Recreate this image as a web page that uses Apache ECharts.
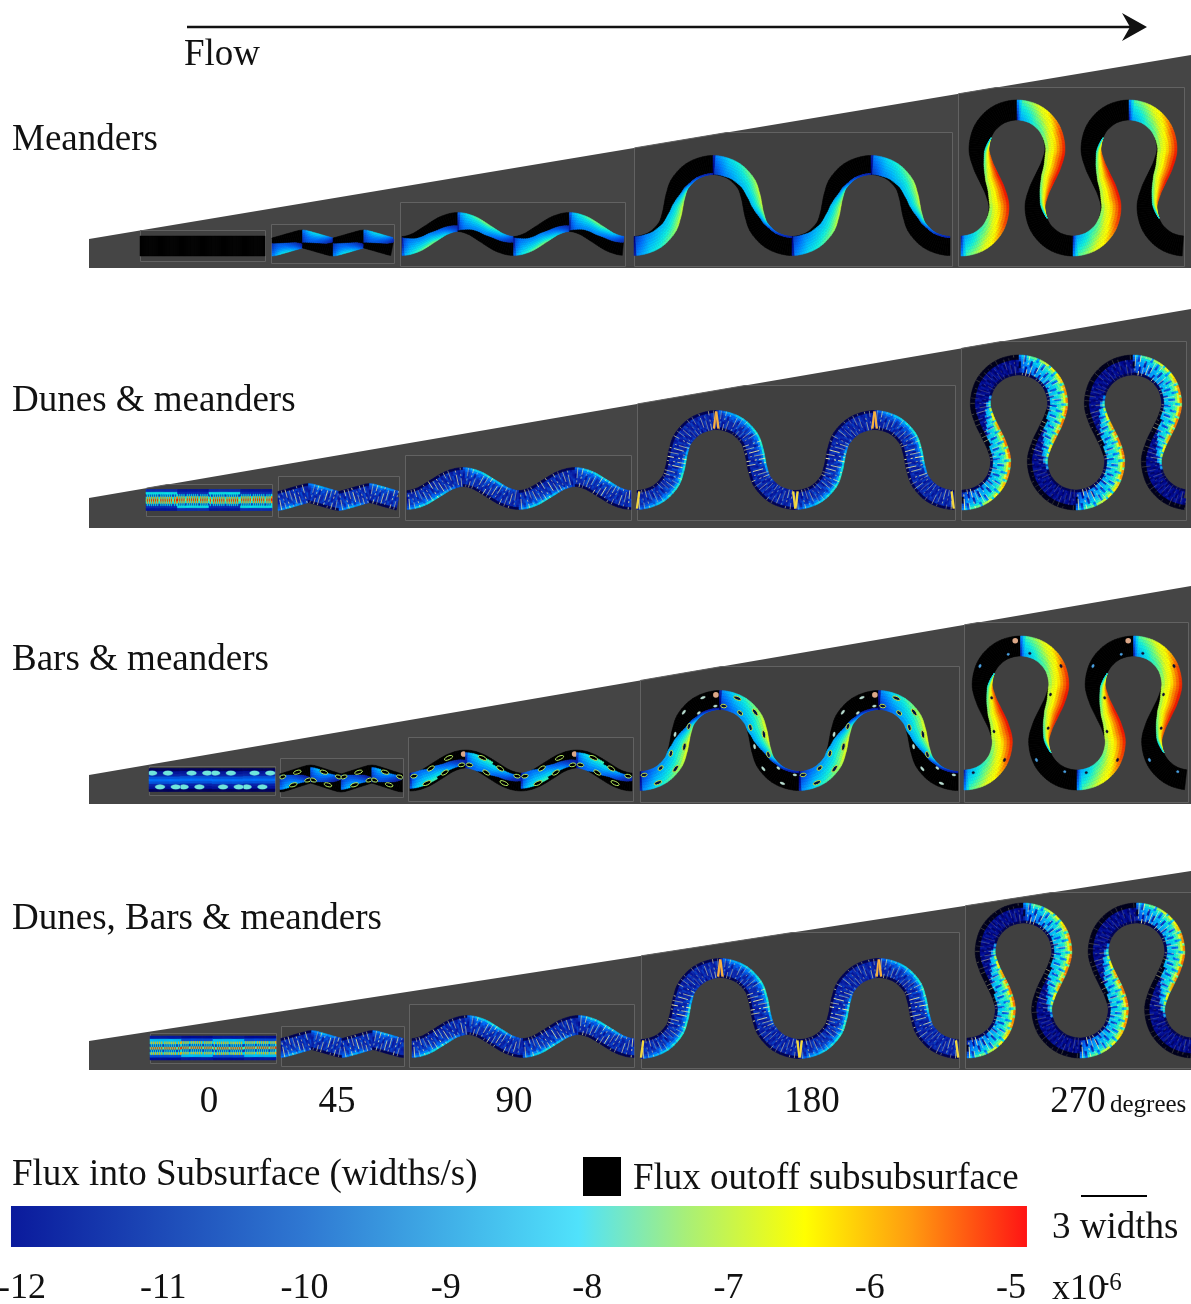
<!DOCTYPE html>
<html><head><meta charset="utf-8">
<style>html,body{margin:0;padding:0;background:#fff}#c{width:1191px;height:1304px}</style>
<script src="https://cdn.jsdelivr.net/npm/echarts@6/dist/echarts.min.js"></script>
</head><body><div id="c"></div>
<script>
// ---------- text ----------
const rowLabels = ['Meanders', 'Dunes & meanders', 'Bars & meanders', 'Dunes, Bars & meanders'];
const rowLabelY = [140, 401, 660, 919];
const degreeLabels = ['0', '45', '90', '180', '270'];
const degreeLabelX = [209, 337, 514, 812, 1078];
const fluxTicks = [-12, -11, -10, -9, -8, -7, -6, -5];

// ---------- wedges per row ----------
const wedgeLeftTop = [239, 498, 775, 1041];
const wedgeRightTop = [55, 309, 586, 871];
const wedgeBottom = [268, 528, 804, 1070];

// ---------- panel frames per row (columns: 0,45,90,180,270 degrees) ----------
const frameLeft = [[140,271,400,634,958],[146,278,405,637,961],[149,280,408,640,964],[150,281,409,641,965]];
const frameRight = [[265,394,625,952,1184],[272,399,631,955,1186],[275,403,633,959,1188],[276,404,634,959,1192]];
const frameTop = [[230,224,202,132,87],[484,476,455,385,341],[766,758,737,666,622],[1033,1026,1004,932,892]];
const frameBottom = [[261,263,266,266,266],[516,517,520,520,520],[795,797,801,802,802],[1063,1066,1067,1068,1068]];

// ---------- channel reaches per row ----------
const channelStart = [[140,272,402,634,961],[146,278,407,637,962],[149,280,410,640,964],[150,281,412,641,967]];
const channelHalfWave = [[31.5,30.6,55.8,79,56],[31.5,30.5,56,79.2,57],[31.5,30.6,55.5,79.5,56.5],[31.5,30.6,55.5,79.3,56.5]];
const channelTroughY = [[246,247,246,246,246],[500,501,500,500,500],[780,783,782,781,780],[1048,1048,1048,1049,1048]];
const channelApexY = [[246,239,222,165,110],[500,493,477,420,365],[780,774,759,700,646],[1048,1040,1025,968,913]];
const channelWidth = [[20,18,19,19,20],[21,19,19,19,20],[23,18,18,19,20],[24,19,19,19,20]];

// ---------- centreline, trough to apex, per degree column ----------
const curve0 = [[0,0],[62,0]];
const curve45 = [[0,0],[4,-0.8],[26.5,-7.2],[30.5,-8]];
const curve90 = [[0,0],[14,-3.5],[28,-12],[42,-20.5],[56,-24]];
const curve180 = [[0,0],[20,-5.3],[33.5,-18],[38.5,-31],[40.5,-40.5],[42.5,-50],[47.5,-63],[61,-75.7],[81,-81]];
const curve270 = [[0,0],[19,-5],[32.9,-19],[38,-38],[34.4,-54],[28,-68],[21.6,-82],[18,-98],[23.1,-117],[37,-131],[56,-136]];
const curves = [curve0, curve45, curve90, curve180, curve270];

// ---------- flux read along a half wave (9 stations), per degree column ----------
const coverage0 = [0,0,0,0,0,0,0,0,0];
const coverage45 = [0.7,0.65,0.6,0.55,0.5,0.45,0.4,0.3,0.2];
const coverage90 = [0.95,0.85,0.7,0.6,0.55,0.45,0.4,0.35,0.3];
const coverage180 = [1,0.97,0.88,0.75,0.55,0.22,0.1,0.07,0.05];
const coverage270 = [1,1,1,0.95,0.7,0.3,0,0,0];
const coverage = [coverage0, coverage45, coverage90, coverage180, coverage270];
const bankFlux0 = [-12,-12,-12,-12,-12,-12,-12,-12,-12];
const bankFlux45 = [-9.8,-8.8,-8.4,-8.3,-8.4,-8.8,-9.4,-10.2,-11];
const bankFlux90 = [-9.5,-8.2,-7.6,-7.3,-7.4,-8,-8.6,-9.6,-10.5];
const bankFlux180 = [-10,-8.4,-7.6,-7,-6.9,-7.4,-9.5,-10.5,-11];
const bankFlux270 = [-8,-6.5,-5.2,-4.9,-4.9,-5.4,-6.8,-8.5,-10];
const bankFlux = [bankFlux0, bankFlux45, bankFlux90, bankFlux180, bankFlux270];
const edgeFlux0 = [-12,-12,-12,-12,-12,-12,-12,-12,-12];
const edgeFlux45 = [-11,-10.5,-10.3,-10.3,-10.4,-10.6,-10.8,-11,-11.4];
const edgeFlux90 = [-11,-10,-9.7,-9.7,-9.7,-10,-10.4,-10.8,-11];
const edgeFlux180 = [-11,-9.8,-9.2,-9,-9,-9.6,-10.4,-11,-11.2];
const edgeFlux270 = [-9.8,-8.2,-7.6,-7.2,-7.4,-8,-9,-10,-11];
const edgeFlux = [edgeFlux0, edgeFlux45, edgeFlux90, edgeFlux180, edgeFlux270];
const bankFalloff = [1,1.6,1.4,1.1,1];

// dunes
const duneFloor = [-10.6, -11, -11.1, -11.2, -11.9];
const duneBlend = [0, 0.3, 0.2, 0.12, 0.6];
const dunePattern = [0,1,0,0.7,0,1,0,0.6,0,0.9,0,0.8,0];
const duneMask = [0.2,0.9,0.9,0.5,0.9,0.9,0.3,0.9,0.3];
const blotch = [0,1,-1,0.5,-0.5,1,0,-1,0.5,0,-0.5,1,-1];
const stripe45 = [0.8,0.7,0.7,0.75,0.8,0.75,0.7,0.7,0.8];
const stripe90 = [0.8,0.65,0.6,0.75,0.85,0.75,0.6,0.65,0.8];
const stripe180 = [0.7,0.5,0.45,0.75,1,0.75,0.45,0.5,0.7];
const stripe270 = [0.95,0.75,0.55,0.55,0.55,0.45,0.35,0.35,0.45];
const stripeStrength = [stripe45, stripe45, stripe90, stripe180, stripe270];
const duneProfile0 = [-11.6,-11,-9.5,-7,-6.2,-7,-9.5,-8.4,-11];
const dunesBarsProfile0 = [-11.8,-10.5,-7.2,-9.5,-6.4,-9.5,-7.2,-9,-11.5];

// bars
const barStations0 = [0.1,0.35,0.6,0.85];
const barStations45 = [0.12,0.38,0.62,0.88];
const barStations90 = [0.08,0.25,0.42,0.58,0.75,0.92];
const barStations180 = [0.04,0.13,0.21,0.29,0.38,0.46,0.54,0.63,0.71,0.79,0.88,0.96];
const barStations270 = [0.06,0.24,0.4,0.58,0.76,0.92];
const barStations = [barStations0,barStations45,barStations90,barStations180,barStations270];
const barCoverBoost = [1,1.4,1.45,1.4,1.05];
const barLength = [5,4,4,3.6,1.6];
const barWidth = [0.1,0.1,0.1,0.09,0.06];
const barProfile0 = [-12.4,-11.6,-11.2,-10.4,-10,-10.4,-11.2,-11.6,-12.4];
const cellsAlong = [30,16,30,60,85];
const cellsAcross = 9;

// ---------- colour scales ----------
const fieldValues = [-13.2,-12,-11,-10,-9,-8.2,-7.5,-6.9,-6.4,-5.8,-5];
const fieldColors = ['#000006','#00058c','#0c2cb4','#0070ff','#00c0ff','#10f0e0','#70ff80','#e0ff20','#ffff00','#ff9000','#f01000'];
const legendValues = [-12.078,-10,-8.06,-7.3,-6.46,-5.7,-4.887];
const legendColors = ['#0a1a9c','#2f78d2','#50e2fb','#a8ef78','#ffff00','#ff9a10','#ff1414'];

// ---------- helpers ----------
function hex(c){return [1,3,5].map(i=>parseInt(c.substr(i,2),16));}
const fieldRGB = fieldColors.map(hex);
function fieldColor(v){
  let i=0; v=Math.max(fieldValues[0],Math.min(-5,v));
  while(i<fieldValues.length-2 && v>fieldValues[i+1]) i++;
  const t=(v-fieldValues[i])/(fieldValues[i+1]-fieldValues[i]);
  const c=fieldRGB[i].map((a,k)=>a+(fieldRGB[i+1][k]-a)*t);
  return 'rgb('+c.map(Math.round).join(',')+')';
}
function interp(arr,s){
  const f=Math.min(0.9999,Math.max(0,s))*(arr.length-1),i=Math.floor(f),t=f-i;
  return arr[i]+(arr[i+1]-arr[i])*t;
}
function densify(pts){
  const first=[-pts[1][0],pts[1][1]],m=pts.length-1,end=[2*pts[m][0]-pts[m-1][0],pts[m-1][1]];
  const all=[first].concat(pts,[end]),out=[];
  for(let i=1;i<all.length-2;i++){
    const p0=all[i-1],p1=all[i],p2=all[i+1],p3=all[i+2];
    for(let k=0;k<12;k++){
      const t=k/12,t2=t*t,t3=t2*t;
      out.push([0,1].map(d=>0.5*(2*p1[d]+(p2[d]-p0[d])*t+(2*p0[d]-5*p1[d]+4*p2[d]-p3[d])*t2+(3*p1[d]-p0[d]-3*p2[d]+p3[d])*t3)));
    }
  }
  out.push(pts[m]);
  return out;
}
function stations(curve,n){
  const d=densify(curve),len=[0];
  for(let i=1;i<d.length;i++)len.push(len[i-1]+Math.hypot(d[i][0]-d[i-1][0],d[i][1]-d[i-1][1]));
  const L=len[len.length-1],res=[];let j=0;
  for(let i=0;i<=n;i++){
    const target=L*i/n;
    while(j<d.length-2&&len[j+1]<target)j++;
    const t=(target-len[j])/((len[j+1]-len[j])||1);
    res.push([d[j][0]+(d[j+1][0]-d[j][0])*t,d[j][1]+(d[j+1][1]-d[j][1])*t]);
  }
  return res;
}
function wedgeY(r,x){return wedgeLeftTop[r]+(wedgeRightTop[r]-wedgeLeftTop[r])*(x-89)/(1191-89);}

function meanderFlux(c,s,t){
  const bank=interp(bankFlux[c],s),edge=interp(edgeFlux[c],s);
  let v=edge+(bank-edge)*Math.pow(1-t,bankFalloff[c]);
  if(s<0.025)v-=(1-s/0.025)*2;
  return v;
}

const panelItems=[];
rowLabels.forEach((_,r)=>degreeLabels.forEach((_,c)=>panelItems.push([r,c])));
const wedgeItems=rowLabels.map((_,r)=>[r]);

function renderChannel(params,api){
  const r=api.value(0),c=api.value(1);
  const nAlong=cellsAlong[c];
  const base=stations(curves[c],nAlong);
  const cv=curves[c],last=cv[cv.length-1];
  const hw=channelHalfWave[r][c],x0=channelStart[r][c],ty=channelTroughY[r][c],ay=channelApexY[r][c];
  const sx=hw/last[0],sy=last[1]===0?0:(ty-ay)/-last[1];
  const w=channelWidth[r][c],xMin=frameLeft[r][c],xMax=frameRight[r][c];
  const ch=[];
  const dunes=r===1||r===3, bars=r===2;
  function poly(q,col){
    if(q.some(p=>p[0]>xMax||p[0]<xMin-0.5))return;
    ch.push({type:'polygon',shape:{points:q.map(p=>api.coord(p))},style:{fill:col,stroke:col,lineWidth:0.5},silent:true});
  }
  const effCov=s=>{const v=interp(coverage[c],s);return bars?Math.min(1,v*barCoverBoost[c]):v;};
  for(let h=0;h<4;h++){
    const org=x0+hw*h,pts=[];
    for(let i=0;i<=nAlong;i++){
      const k=h%2===0?i:nAlong-i,p=base[k];
      pts.push(h%2===0?[org+p[0]*sx,ty+p[1]*sy]:[org+hw-p[0]*sx,ty+p[1]*sy]);
    }
    const nor=pts.map((p,i)=>{
      const a=pts[Math.max(0,i-1)],b=pts[Math.min(nAlong,i+1)];
      let tx=b[0]-a[0],ty2=b[1]-a[1];
      if(i===0||i===nAlong){tx=1;ty2=0;}
      const L=Math.hypot(tx,ty2)||1;tx/=L;ty2/=L;
      const sign=h%2===0?1:-1;
      return [-ty2*sign,tx*sign];
    });
    let halfLen=0;for(let i=0;i<nAlong;i++)halfLen+=Math.hypot(pts[i+1][0]-pts[i][0],pts[i+1][1]-pts[i][1]);
    const at=(i,n)=>[pts[i][0]+nor[i][0]*w*(0.5-n),pts[i][1]+nor[i][1]*w*(0.5-n)];
    const atS=(s,n)=>{
      const f=Math.max(0,Math.min(nAlong-0.001,s*nAlong)),i=Math.floor(f),t=f-i,a=at(i,n),b=at(i+1,n);
      return [a[0]+(b[0]-a[0])*t,a[1]+(b[1]-a[1])*t];
    };
    if(!dunes&&!(bars&&c===0)){
      const K=7;
      for(let i=0;i<nAlong;i++){
        const sa=i/nAlong,sb=(i+1)/nAlong,s=(i+0.5)/nAlong,ca=effCov(sa),cb=effCov(sb);
        if(ca<1||cb<1)poly([at(i,Math.min(1,ca)),at(i+1,Math.min(1,cb)),at(i+1,1),at(i,1)],'#000000');
        if(ca<=0&&cb<=0)continue;
        for(let k=0;k<K;k++){
          const t=(k+0.5)/K;
          let v=meanderFlux(c,s,t),col;
          if(bars&&c>0&&c<4)v=v-0.5*t+0.2;
          const nMid=t*(ca+cb)/2;
          col=(bars&&(c===1||c===2)&&nMid<0.18)?'#000000':fieldColor(v);
          poly([at(i,ca*k/K),at(i+1,cb*k/K),at(i+1,cb*(k+1)/K),at(i,ca*(k+1)/K)],col);
        }
      }
    } else {
      for(let i=0;i<nAlong;i++){
        const s=(i+0.5)/nAlong;
        const cov=interp(coverage[c],s);
        for(let j=0;j<cellsAcross;j++){
          const n=(j+0.5)/cellsAcross;
          let v;
          if(c===0){
            const prof=bars?barProfile0:r===1?duneProfile0:dunesBarsProfile0;
            v=prof[j];
            if(!bars&&j>=2&&j<=6){
              const p=dunePattern[(i+h*5)%dunePattern.length];
              v+=(p>0.5?1.2:p>0.1?-0.2:-1.3);
            }
          } else {
            const floor=duneFloor[c]+blotch[(i+j*3+h)%blotch.length]*0.4;
            v=floor;
            const inC=n<cov;
            if(inC){
              const t=n/cov,wgt=duneBlend[c]+(1-duneBlend[c])*Math.pow(1-t,4);
              v=floor+(meanderFlux(c,s,t)-floor)*wgt;
              if(blotch[(i+j*5)%blotch.length]<-0.6)v-=c===4?1.8:0.5;
            } else if(c===4&&j>=7)v=-13;
            if((j===0&&!inC)||j===cellsAcross-1)v=Math.min(v,-12.5);
          }
          poly([at(i,j/cellsAcross),at(i+1,j/cellsAcross),at(i+1,(j+1)/cellsAcross),at(i,(j+1)/cellsAcross)],fieldColor(v));
        }
      }
      if(dunes&&c>0){
        for(let i=1;i<nAlong;i++){
          const s=i/nAlong,patt=dunePattern[(i+h*5)%dunePattern.length];
          if(patt<0.5)continue;
          const cov=interp(coverage[c],s);
          let a=null;
          for(let j=0;j<=cellsAcross;j++){
            const on=j<cellsAcross&&duneMask[(j+i)%cellsAcross]>0.4;
            if(on&&a===null)a=j;
            if(!on&&a!==null){
              const n0=a/cellsAcross,n1=j/cellsAcross;
              const A=at(i,n0),B=at(i,n1);
              if(A[0]<xMax&&B[0]<xMax&&A[0]>xMin&&B[0]>xMin){
                let o=interp(stripeStrength[c],s)*patt;
                if(c===4&&n0>=cov)o*=0.6;
                const pa=api.coord(A),pb=api.coord(B);
                ch.push({type:'line',shape:{x1:pa[0],y1:pa[1],x2:pb[0],y2:pb[1]},style:{stroke:'#f0f0a0',opacity:o,lineWidth:1},silent:true});
              }
              a=null;
            }
          }
        }
        if(c===3){
          [[0,0.05,0.025,0.95],[1,0.95,0.975,0.05]].forEach(t=>{
            const A=atS(t[0],t[1]),B=atS(t[2],t[3]);
            if(A[0]>xMax||B[0]>xMax)return;
            const pa=api.coord(A),pb=api.coord(B);
            const isApex=(h%2===0)===(t[0]===1);
            ch.push({type:'line',shape:{x1:pa[0],y1:pa[1],x2:pb[0],y2:pb[1]},style:{stroke:isApex?'#f6b040':'#f4d840',lineWidth:2.4},silent:true});
          });
        }
      }
    }
    if(bars){
      const st=barStations[c],sl=barLength[c]/halfLen,nw=barWidth[c];
      st.forEach((s0,b)=>{
        const n0=b%2===0?0.8:0.2,inC=n0<effCov(s0);
        const scale=(c===3&&!inC)?0.65:1;
        const ring=[];
        for(let a=0;a<12;a++){
          const ang=a/12*Math.PI*2;
          ring.push(atS(s0+sl*scale*Math.cos(ang),n0+nw*scale*Math.sin(ang)));
        }
        if(ring.some(p=>p[0]>xMax||p[0]<xMin))return;
        let fill,stroke=null;
        if(c===0){fill='#6fe6dc';}
        else if(c===4){fill=inC?'#101030':'#4aa0e0';}
        else if(c===3&&!inC){fill='#b8dcd0';}
        else if(c===3){fill='#001040';stroke='#c8e040';}
        else {fill='#000000';stroke='#b8ec60';}
        ch.push({type:'polygon',shape:{points:ring.map(p=>api.coord(p))},
          style:{fill,stroke:stroke||fill,lineWidth:stroke?1:0.3},silent:true});
      });
      if(c>=2&&h%2===0){
        const p=api.coord(atS(0.975,0.78));
        ch.push({type:'circle',shape:{cx:p[0],cy:p[1],r:2.8},style:{fill:'#dca888'},silent:true});
      }
    }
  }
  return {type:'group',children:ch};
}

function framePoints(r,c){
  const xl=frameLeft[r][c]+0.5,xr=frameRight[r][c]+0.5,yt=frameTop[r][c]+0.5,yb=frameBottom[r][c]+0.5;
  const wl=wedgeY(r,xl),wr=wedgeY(r,xr),top=[];
  if(yt>=wl)top.push([xl,yt],[xr,yt]);
  else if(yt<=wr)top.push([xl,wl],[xr,wr]);
  else {
    const xc=89+(yt-wedgeLeftTop[r])/(wedgeRightTop[r]-wedgeLeftTop[r])*(1191-89);
    top.push([xl,wl],[xc,yt],[xr,yt]);
  }
  return top.concat([[xr,yb],[xl,yb]]);
}

const FONT='"Liberation Serif"';
const textItems=[];
function addText(x,y,text,size,align){textItems.push({value:[x,y],text,size,align:align||'left'});}
addText(184,55,'Flow',37);
rowLabels.forEach((t,i)=>addText(12,rowLabelY[i],t,37));
degreeLabels.forEach((t,i)=>addText(degreeLabelX[i],1102,t,37,'center'));
addText(1110,1105,'degrees',25);
addText(12,1175,'Flux into Subsurface (widths/s)',37);
addText(633,1179,'Flux outoff subsubsurface',37);
addText(1052,1228,'3 widths',37);
addText(1052,1290,'x10',36);
addText(1101,1283,'-6',25);

const chart=echarts.init(document.getElementById('c'),null,{renderer:'canvas',width:1191,height:1304});
chart.setOption({
  animation:false,
  backgroundColor:'#ffffff',
  grid:[
    {left:0,top:0,width:1191,height:1304,containLabel:false,outerBoundsMode:'none'},
    {left:22,top:1206,width:989,height:41,containLabel:false,outerBoundsMode:'none'}
  ],
  xAxis:[
    {type:'value',gridIndex:0,min:0,max:1191,show:false},
    {type:'value',gridIndex:1,min:-12,max:-5,interval:1,
     axisLine:{show:false},axisTick:{show:false},splitLine:{show:false},
     axisLabel:{show:true,margin:24,fontFamily:FONT,fontSize:36,color:'#111',showMinLabel:true,showMaxLabel:true,hideOverlap:false,
       formatter:v=>fluxTicks.includes(v)?String(v):''}}
  ],
  yAxis:[
    {type:'value',gridIndex:0,min:0,max:1304,inverse:true,show:false},
    {type:'value',gridIndex:1,min:0,max:1,show:false}
  ],
  series:[
    {type:'custom',name:'wedges',xAxisIndex:0,yAxisIndex:0,silent:true,clip:false,data:wedgeItems,z:1,
     renderItem(p,api){const r=api.value(0);
       return {type:'polygon',shape:{points:[[89,wedgeLeftTop[r]],[1191,wedgeRightTop[r]],[1191,wedgeBottom[r]],[89,wedgeBottom[r]]].map(q=>api.coord(q))},
         style:{fill:'#454545'}};}},
    {type:'custom',name:'frames',xAxisIndex:0,yAxisIndex:0,silent:true,clip:false,data:panelItems,z:2,
     renderItem(p,api){const r=api.value(0),c=api.value(1);
       return {type:'polygon',shape:{points:framePoints(r,c).map(q=>api.coord(q))},
         style:{fill:'#404040',stroke:'#626262',lineWidth:1}};}},
    {type:'custom',name:'channels',xAxisIndex:0,yAxisIndex:0,silent:true,clip:false,progressive:0,data:panelItems,z:3,renderItem:renderChannel},
    {type:'custom',name:'arrow',xAxisIndex:0,yAxisIndex:0,silent:true,clip:false,data:[[187,27,1147]],z:4,
     renderItem(p,api){const x0=api.value(0),y=api.value(1),x1=api.value(2);
       const a=api.coord([x0,y]),b=api.coord([x1-15,y]);
       return {type:'group',children:[
         {type:'line',shape:{x1:a[0],y1:a[1],x2:b[0],y2:b[1]},style:{stroke:'#111',lineWidth:2.6}},
         {type:'polygon',shape:{points:[[x1-25,y-14],[x1,y],[x1-25,y+14],[x1-17,y]].map(q=>api.coord(q))},style:{fill:'#111'}}
       ]};}},
    {type:'custom',name:'legendMarks',xAxisIndex:0,yAxisIndex:0,silent:true,clip:false,data:[[583,1157,621,1196],[1081,1195,1147,1197]],z:4,
     renderItem(p,api){const a=api.coord([api.value(0),api.value(1)]),b=api.coord([api.value(2),api.value(3)]);
       return {type:'rect',shape:{x:a[0],y:a[1],width:b[0]-a[0],height:b[1]-a[1]},style:{fill:'#000'}};}},
    {type:'custom',name:'colorbar',xAxisIndex:1,yAxisIndex:1,silent:true,clip:false,data:[[legendValues[0],legendValues[legendValues.length-1]]],z:4,
     renderItem(p,api){const a=api.coord([api.value(0),1]),b=api.coord([api.value(1),0]);
       const span=legendValues[legendValues.length-1]-legendValues[0];
       const stops=legendValues.map((v,i)=>({offset:(v-legendValues[0])/span,color:legendColors[i]}));
       return {type:'rect',shape:{x:a[0],y:a[1],width:b[0]-a[0],height:b[1]-a[1]},
         style:{fill:new echarts.graphic.LinearGradient(0,0,1,0,stops)}};}},
    {type:'custom',name:'texts',xAxisIndex:0,yAxisIndex:0,silent:true,clip:false,data:textItems.map(t=>t.value),z:5,
     renderItem(p,api){const it=textItems[p.dataIndex],q=api.coord(it.value);
       return {type:'text',x:q[0],y:q[1],style:{text:it.text,fontFamily:FONT,fontSize:it.size,fill:'#111',align:it.align,verticalAlign:'middle'}};}}
  ]
});
</script></body></html>
